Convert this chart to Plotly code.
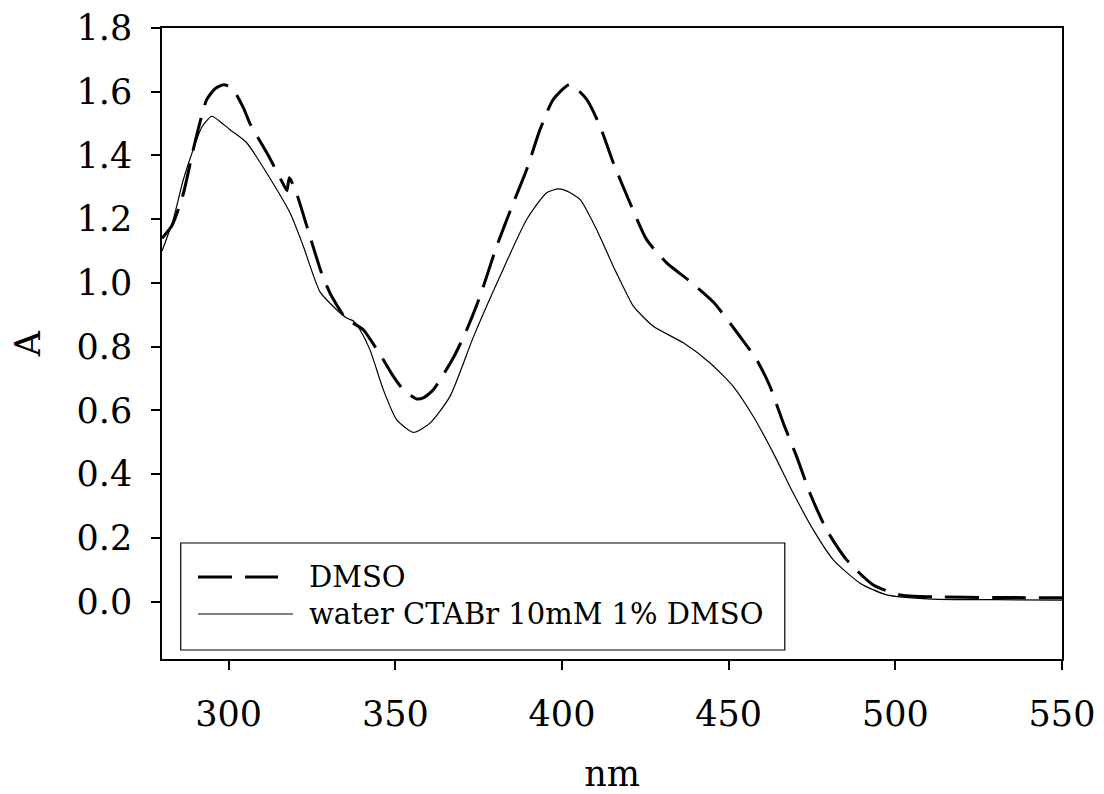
import plotly.graph_objects as go

# DMSO spectrum (dashed)
dmso_nm = [280, 283, 286.4, 289.4, 293.4, 296, 298.5, 301, 304.4, 306.4, 311.9, 316.9, 317.5, 318.2,
           320.4, 323.4, 327.9, 330.9, 335.4, 338, 340.4, 346.4, 349.4, 352.4, 356.4, 358.5, 361.4,
           367.4, 371.4, 375.4, 380.4, 385.4, 389.4, 393.4, 397.4, 402.4, 407.4, 411.4, 415.4, 420.4,
           425.4, 431.4, 438.4, 445.4, 453.4, 458.4, 462.4, 466.4, 470.4, 474.4, 479.4, 485.4, 493.4,
           501.4, 511.4, 530, 550]
dmso_A = [1.14, 1.18, 1.28, 1.42, 1.575, 1.61, 1.622, 1.612, 1.55, 1.50, 1.40, 1.30, 1.29, 1.33,
          1.28, 1.18, 1.03, 0.958, 0.885, 0.87, 0.853, 0.759, 0.707, 0.665, 0.636, 0.64, 0.665,
          0.765, 0.853, 0.958, 1.115, 1.251, 1.356, 1.481, 1.576, 1.623, 1.576, 1.492, 1.377, 1.251,
          1.136, 1.063, 1.005, 0.94, 0.832, 0.759, 0.675, 0.56, 0.455, 0.34, 0.225, 0.131, 0.052,
          0.021, 0.015, 0.013, 0.012]

# water CTABr 10mM 1% DMSO spectrum (solid)
water_nm = [280, 283.4, 286.4, 289.4, 292, 294.9, 297, 300.4, 305.4, 311.4, 318.4, 322.4, 327.4,
            332.4, 335.4, 337.5, 339.4, 342.4, 346.4, 350.4, 355.4, 360.4, 366.4, 373.4, 381.4,
            389.4, 395.4, 398.9, 401.5, 405.4, 410.4, 415.4, 418.5, 421.4, 427.4, 436.4, 444.4, 451.4,
            457.4, 463.4, 469.4, 475.4, 481.4, 489.4, 497.4, 511, 530, 550]
water_A = [1.10, 1.20, 1.324, 1.42, 1.49, 1.523, 1.51, 1.481, 1.44, 1.345, 1.22, 1.115, 0.972,
           0.916, 0.89, 0.88, 0.853, 0.79, 0.665, 0.571, 0.531, 0.56, 0.644, 0.83, 1.021,
           1.199, 1.283, 1.295, 1.288, 1.262, 1.167, 1.052, 0.985, 0.927, 0.864, 0.812, 0.749, 0.675,
           0.581, 0.466, 0.34, 0.225, 0.131, 0.058, 0.021, 0.008, 0.006, 0.005]

x_ticks = [300, 350, 400, 450, 500, 550]
y_ticks = [0.0, 0.2, 0.4, 0.6, 0.8, 1.0, 1.2, 1.4, 1.6, 1.8]
y_tick_labels = ["0.0", "0.2", "0.4", "0.6", "0.8", "1.0", "1.2", "1.4", "1.6", "1.8"]
legend_labels = ["DMSO", "water CTABr 10mM 1% DMSO"]

FONT = "DejaVu Serif"
DASH = "34px,13px"

fig = go.Figure()
fig.add_trace(go.Scatter(x=dmso_nm, y=dmso_A, mode="lines", name=legend_labels[0],
                         line=dict(color="black", width=3, dash=DASH, shape="spline", smoothing=0.6)))
fig.add_trace(go.Scatter(x=water_nm, y=water_A, mode="lines", name=legend_labels[1],
                         line=dict(color="black", width=1.2, shape="spline", smoothing=0.6)))

axis_common = dict(showgrid=False, zeroline=False, showline=True, linecolor="black", linewidth=1.5,
                   mirror=True, ticks="outside", ticklen=9, tickwidth=1.5, tickcolor="black",
                   automargin=False,
                   tickfont=dict(family=FONT, size=35, color="black"))

fig.update_xaxes(range=[280, 550], tickvals=x_ticks, ticktext=[str(v) for v in x_ticks],
                 title=dict(text="nm", font=dict(family=FONT, size=35, color="black"), standoff=32),
                 ticklabelstandoff=14, **axis_common)
fig.update_yaxes(range=[-0.18, 1.8], tickvals=y_ticks, ticktext=y_tick_labels,
                 title=dict(text="A", font=dict(family=FONT, size=35, color="black"), standoff=30),
                 ticklabelstandoff=12, **axis_common)

# custom legend box
shapes = [
    dict(type="rect", xref="paper", yref="paper", x0=0.0208, x1=0.692, y0=0.0143, y1=0.1838,
         line=dict(color="black", width=1.2), fillcolor="white", layer="above"),
    dict(type="line", xref="paper", yref="paper", x0=0.04, x1=0.129, y0=0.13, y1=0.13,
         line=dict(color="black", width=3, dash=DASH), layer="above"),
    dict(type="line", xref="paper", yref="paper", x0=0.04, x1=0.1456, y0=0.0713, y1=0.0713,
         line=dict(color="black", width=1.2), layer="above"),
]
annotations = [
    dict(xref="paper", yref="paper", x=0.161, y=0.13, xanchor="left", yanchor="middle",
         text=legend_labels[0], showarrow=False, font=dict(family=FONT, size=29, color="black")),
    dict(xref="paper", yref="paper", x=0.161, y=0.0713, xanchor="left", yanchor="middle",
         text=legend_labels[1], showarrow=False, font=dict(family=FONT, size=29, color="black")),
]

fig.update_layout(width=1096, height=786, margin=dict(l=154, r=42, t=20, b=135),
                  paper_bgcolor="white", plot_bgcolor="white", showlegend=False,
                  shapes=shapes, annotations=annotations, font=dict(family=FONT, color="black"))

fig.write_html("out.html")
